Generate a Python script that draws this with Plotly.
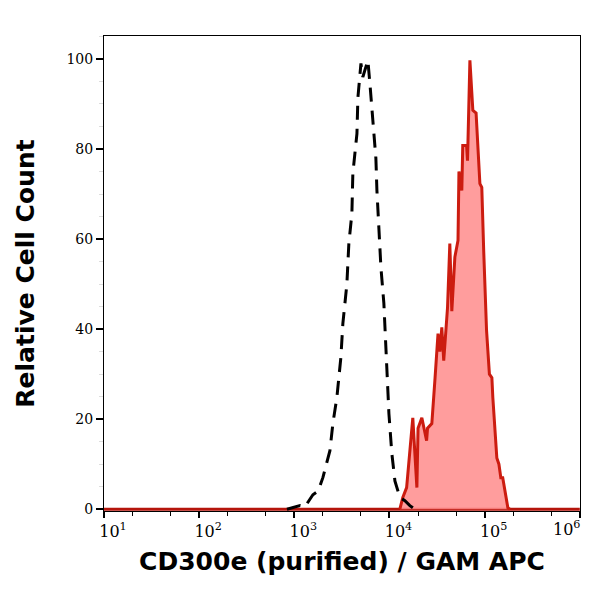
import plotly.graph_objects as go

# Isotype control (black dashed)
ctrl_x = [836, 966, 1148, 1288, 1567, 1778, 1995, 2366, 2541, 2799, 3083, 3236, 3565, 3741,
          4027, 4121, 4550, 4656, 5012, 5248, 5521, 5929, 6223, 6699, 7194, 7379, 7745, 8128,
          8730, 9162, 9616, 9863, 10593, 11402, 12853, 14521, 16368, 18493]
ctrl_y = [0, 0.3, 0.8, 0.5, 3.2, 4, 7, 13, 19, 24.8, 33.7, 41.2, 50, 59,
          65.7, 74.6, 83.4, 91.4, 99, 96, 97.4, 99.7, 94.6, 87, 78, 70.8, 62.6, 53.7,
          45.7, 36.8, 28.6, 21.2, 12.3, 6.3, 2.6, 1.9, 0.8, 0]

# Stained sample (red filled)
stain_x = [12853, 13804, 15136, 16368, 17579, 19409, 19953, 21878, 24547, 25119, 27861, 29992,
           32359, 33884, 35481, 37154, 40738, 43053, 45186, 48641, 52481, 53703, 57544, 58884,
           64565, 66069, 69984, 75162, 81283, 89125, 93325, 97724, 104713, 112202, 119124,
           121899, 127938, 134276, 141254, 147911, 154882, 165959, 175388, 184077]
stain_y = [0, 2.6, 4.8, 13.7, 20.3, 4.8, 18, 20.3, 15.2, 18, 19, 28.6,
           39, 35, 40.4, 33, 44.8, 59, 44, 56, 59.7, 75, 70.8, 80.8,
           80.8, 77.4, 99.7, 88.6, 88, 72.3, 71.5, 57.4, 39.7, 30, 29.2,
           24.8, 17.4, 11.4, 10, 7, 7, 3.4, 0.3, 0]

baseline_x = [10, 1000000]
baseline_y = [0, 0]

y_ticks = [0, 20, 40, 60, 80, 100]
x_ticks = [10, 100, 1000, 10000, 100000, 1000000]
x_tick_text = ["10<sup>1</sup>", "10<sup>2</sup>", "10<sup>3</sup>",
               "10<sup>4</sup>", "10<sup>5</sup>", ""]
last_tick_text = "10<sup>6</sup>"

fig = go.Figure()
fig.add_trace(go.Scatter(x=baseline_x, y=baseline_y, mode="lines",
                         line=dict(color="#b5150c", width=3), hoverinfo="skip"))
fig.add_trace(go.Scatter(x=stain_x, y=stain_y, mode="lines", fill="tozeroy",
                         fillcolor="rgba(255,140,140,0.85)",
                         line=dict(color="#cc1c10", width=3)))
fig.add_trace(go.Scatter(x=ctrl_x, y=ctrl_y, mode="lines",
                         line=dict(color="black", width=3, dash="14px,9px")))

fig.add_annotation(x=6, xref="x", y=0, yref="paper", yanchor="top",
                   text=last_tick_text, showarrow=False, xshift=-13, yshift=-5,
                   font=dict(family="DejaVu Serif", size=16, color="black"))

fig.update_layout(
    width=600, height=595,
    margin=dict(l=96, r=28, t=28, b=92),
    plot_bgcolor="white", paper_bgcolor="white",
    showlegend=False,
    font=dict(family="DejaVu Serif", color="black"),
)
fig.update_xaxes(
    type="log", range=[1, 6.002], automargin=False,
    tickvals=x_ticks, ticktext=x_tick_text,
    ticks="outside", ticklen=6, tickwidth=2, tickcolor="black",
    minor=dict(ticks="outside", ticklen=4, tickwidth=1, tickcolor="black", showgrid=False),
    showline=True, linecolor="black", linewidth=1, mirror=True,
    showgrid=False, zeroline=False,
    tickfont=dict(family="DejaVu Serif", size=16),
    ticklabelshift=9, ticklabeloverflow="allow",
    title=dict(text="<b>CD300e (purified) / GAM APC</b>",
               font=dict(family="DejaVu Sans", size=25), standoff=12),
)
fig.update_yaxes(
    range=[-0.4, 105.1], automargin=False,
    tickvals=y_ticks,
    ticks="outside", ticklen=7, tickwidth=2, tickcolor="black",
    minor=dict(tickvals=[5, 10, 15, 25, 30, 35, 45, 50, 55, 65, 70, 75, 85, 90, 95, 105],
               ticks="outside", ticklen=4, tickwidth=1, tickcolor="#dddddd", showgrid=False),
    showline=True, linecolor="black", linewidth=1, mirror=True,
    showgrid=False, zeroline=False,
    tickfont=dict(family="DejaVu Serif", size=14),
    title=dict(text="<b>Relative Cell Count</b>",
               font=dict(family="DejaVu Sans", size=25), standoff=24),
)

fig.write_html("out.html")
